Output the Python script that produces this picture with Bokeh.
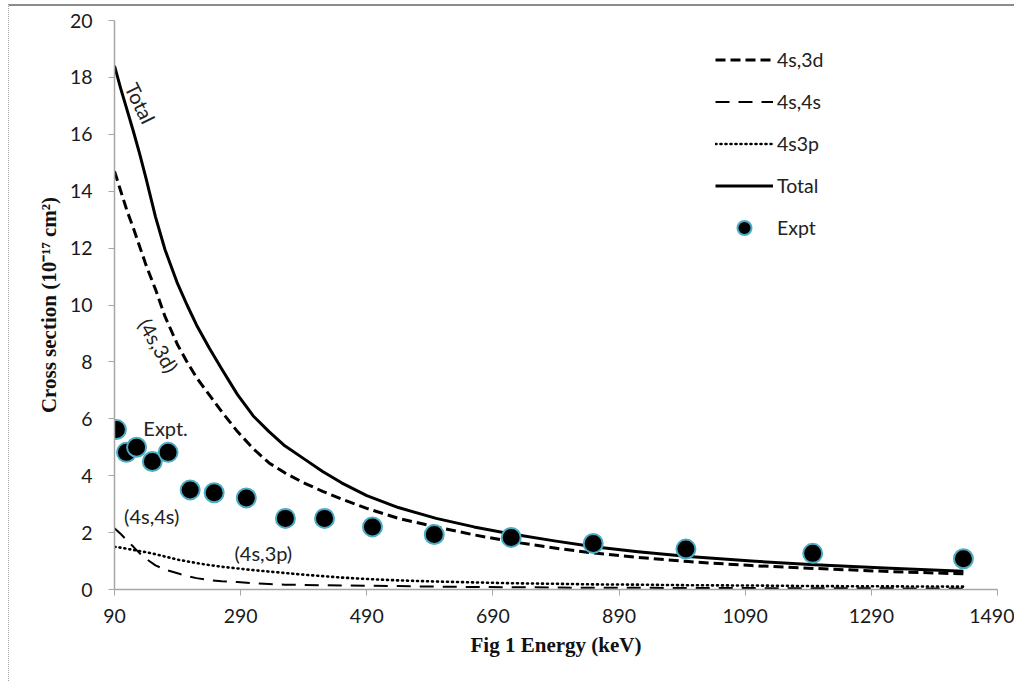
from bokeh.plotting import figure
from bokeh.models import Range1d, FixedTicker, ColumnDataSource, Legend
from bokeh.layouts import column
from bokeh.embed import file_html
from bokeh.resources import INLINE
from bokeh.core.properties import value
import numpy as np

# ---- data ----
energy = [90, 100, 110, 120, 130, 140, 155, 170, 190, 205, 220, 240, 260, 285, 310, 335, 360,
          390, 420, 450, 490, 540, 600, 660, 720, 790, 850, 920, 1000, 1100, 1200, 1320, 1436]
total = [18.4, 17.6, 16.85, 16.1, 15.3, 14.45, 13.1, 11.95, 10.75, 10.0, 9.3, 8.5, 7.75, 6.85, 6.1, 5.55, 5.05,
         4.6, 4.15, 3.75, 3.3, 2.88, 2.5, 2.2, 1.95, 1.7, 1.5, 1.33, 1.16, 1.0, 0.87, 0.75, 0.64]
s4_3d = [14.7, 14.0, 13.3, 12.7, 12.05, 11.4, 10.55, 9.6, 8.6, 8.0, 7.45, 6.85, 6.25, 5.55, 4.95, 4.45, 4.1,
         3.75, 3.45, 3.18, 2.85, 2.5, 2.2, 1.92, 1.68, 1.45, 1.28, 1.13, 0.98, 0.84, 0.74, 0.63, 0.55]
s4_4s = [2.15, 1.95, 1.72, 1.5, 1.27, 1.08, 0.85, 0.7, 0.57, 0.47, 0.4, 0.33, 0.29, 0.26, 0.22, 0.19, 0.17,
         0.16, 0.15, 0.14, 0.13, 0.12, 0.1, 0.09, 0.08, 0.07, 0.06, 0.06, 0.05, 0.05, 0.04, 0.04, 0.03]
s4_3p = [1.5, 1.47, 1.43, 1.39, 1.35, 1.31, 1.24, 1.16, 1.05, 0.99, 0.93, 0.86, 0.8, 0.74, 0.68, 0.63, 0.58,
         0.52, 0.47, 0.42, 0.37, 0.32, 0.28, 0.25, 0.22, 0.2, 0.18, 0.17, 0.15, 0.14, 0.12, 0.11, 0.1]

expt_e = [93, 109, 125, 150, 175, 210, 248, 299, 361, 423, 499, 597, 719, 849, 996, 1197, 1436]
expt_v = [5.62, 4.82, 5.0, 4.5, 4.82, 3.5, 3.4, 3.22, 2.5, 2.5, 2.2, 1.93, 1.83, 1.62, 1.42, 1.27, 1.08]

x_ticks = [90, 290, 490, 690, 890, 1090, 1290, 1490]
y_ticks = [0, 2, 4, 6, 8, 10, 12, 14, 16, 18, 20]

notes_text = ["Total", "(4s,3d)", "Expt.", "(4s,4s)", "(4s,3p)"]
notes_x = [131, 160, 171, 149, 326]
notes_y = [17.1, 8.58, 5.66, 2.57, 1.3]
notes_angle = [-64, -60, 0, 0, 0]

TICK_FONT = "Lato"
TITLE_FONT = "Liberation Serif"

p = figure(width=1006, height=677, output_backend="svg", toolbar_location=None,
           x_range=Range1d(90, 1490), y_range=Range1d(0, 20),
           min_border_left=105, min_border_right=18, min_border_top=14, min_border_bottom=94)
p.styles = {"border-top": "2px solid #8c8c8c", "border-left": "1px dotted #a0a0a0"}
p.outline_line_color = None
p.xgrid.visible = False
p.ygrid.visible = False

for ax in (p.xaxis[0], p.yaxis[0]):
    ax.axis_line_color = "#a6a6a6"
    ax.axis_line_width = 1.5
    ax.major_tick_line_color = "#a6a6a6"
    ax.major_tick_in = 0
    ax.major_tick_out = 6
    ax.minor_tick_line_color = None
    ax.major_label_text_font = TICK_FONT
    ax.major_label_text_font_size = "19.5px"
    ax.major_label_text_color = "#1a1a1a"
    ax.axis_label_text_font = TITLE_FONT
    ax.axis_label_text_font_style = "bold"
    ax.axis_label_text_font_size = "21px"
    ax.axis_label_text_color = "#111111"

p.xaxis.ticker = FixedTicker(ticks=x_ticks)
p.yaxis.ticker = FixedTicker(ticks=y_ticks)
p.xaxis.axis_label = "Fig 1 Energy (keV)"
p.yaxis.axis_label = "Cross section (10\u207b\u00b9\u2077 cm\u00b2)"
p.xaxis.major_label_standoff = 13
p.yaxis.major_label_standoff = 16
p.xaxis.axis_label_standoff = 7
p.yaxis.axis_label_standoff = 6

src = ColumnDataSource(dict(e=energy, total=total, d3=s4_3d, s4=s4_4s, p3=s4_3p))

r_3d = p.line("e", "d3", source=src, line_color="black", line_width=3, line_dash="10 5", line_join="round")
r_4s = p.line("e", "s4", source=src, line_color="black", line_width=2, line_dash="14 9", line_join="round")
r_3p = p.line("e", "p3", source=src, line_color="black", line_width=2.6, line_dash="1 4",
              line_cap="round", line_join="round")
r_tot = p.line("e", "total", source=src, line_color="black", line_width=3, line_join="round")
r_exp = p.scatter(expt_e, expt_v, size=19, fill_color="black", line_color="#4bacc6", line_width=2)

tsrc = ColumnDataSource(dict(x=notes_x, y=notes_y, t=notes_text, a=[np.deg2rad(v) for v in notes_angle]))
p.text("x", "y", text="t", angle="a", source=tsrc, text_font=value(TICK_FONT), text_font_size="20px",
       text_color="#222222", text_align="center", text_baseline="middle")

legend = Legend(items=[("4s,3d", [r_3d]), ("4s,4s", [r_4s]), ("4s3p", [r_3p]),
                       ("Total", [r_tot]), ("Expt", [r_exp])],
                location=(601, 344))
legend.border_line_color = None
legend.background_fill_alpha = 0
legend.padding = 0
legend.margin = 0
legend.spacing = 7
legend.glyph_width = 58
legend.glyph_height = 35
legend.label_standoff = 4
legend.label_text_font = TICK_FONT
legend.label_text_font_size = "19.5px"
legend.label_text_color = "#222222"
p.add_layout(legend)

root = column(p, styles={"padding-left": "8px", "padding-top": "4px"})

open("out.html", "w").write(file_html(root, INLINE))
